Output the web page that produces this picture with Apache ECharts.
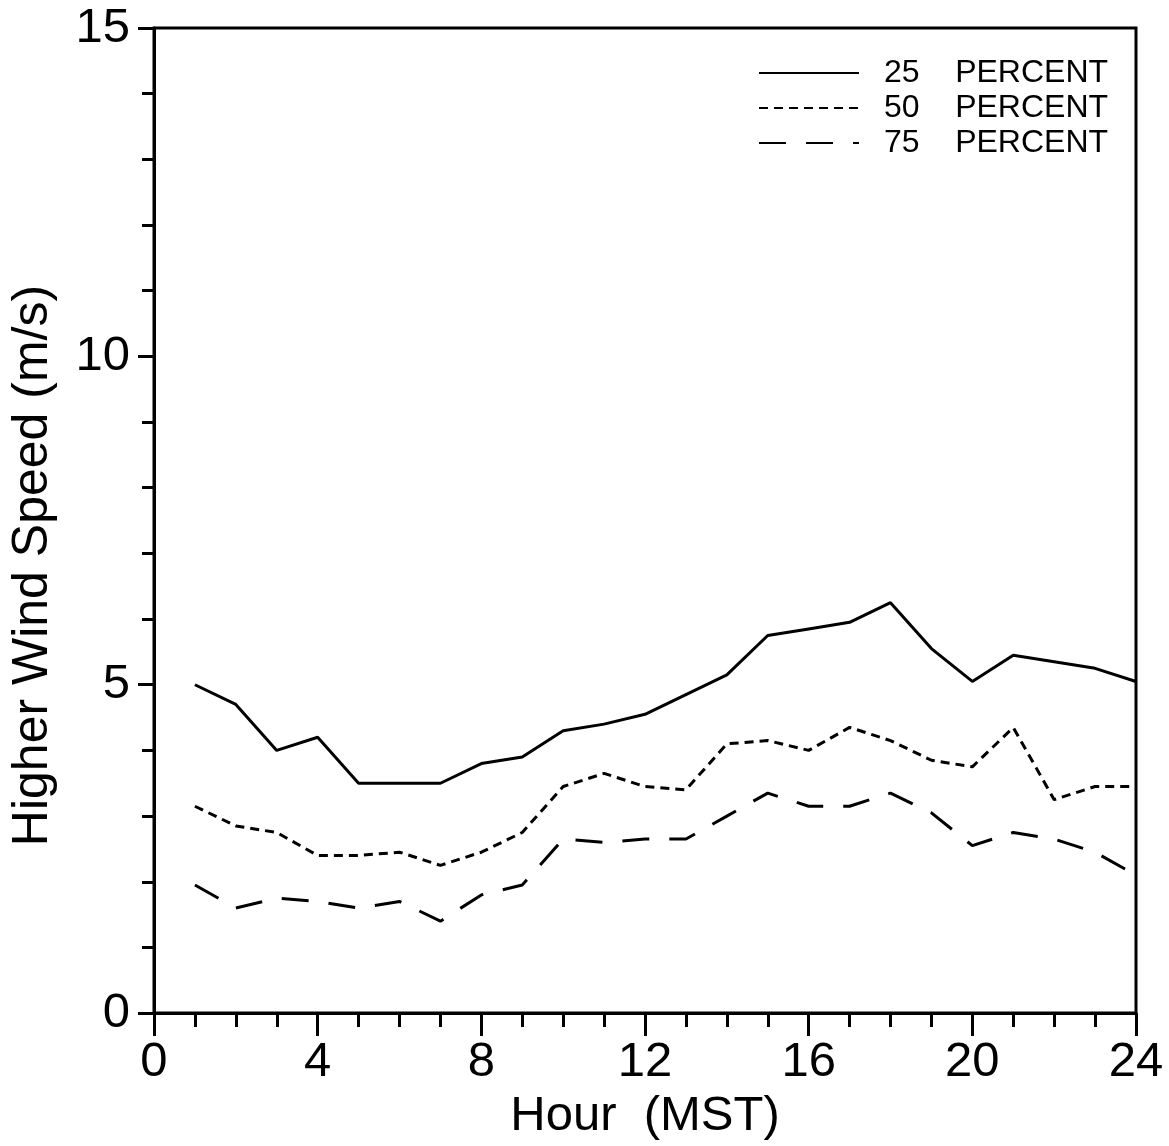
<!DOCTYPE html>
<html>
<head>
<meta charset="utf-8">
<script src="https://cdn.jsdelivr.net/npm/echarts@6/dist/echarts.min.js"></script>
<style>
html,body{margin:0;padding:0;background:#fff;}
#chart{width:1169px;height:1146px;}
</style>
</head>
<body>
<div id="chart"></div>
<script>
// Hours (MST)
var hours = [1,2,3,4,5,6,7,8,9,10,11,12,13,14,15,16,17,18,19,20,21,22,23,24];
// Higher wind speed (m/s) percentiles
var p25 = [5.0,4.7,4.0,4.2,3.5,3.5,3.5,3.8,3.9,4.3,4.4,4.55,4.85,5.15,5.75,5.85,5.95,6.25,5.55,5.05,5.45,5.35,5.25,5.05];
var p50 = [3.15,2.85,2.75,2.4,2.4,2.45,2.25,2.45,2.75,3.45,3.65,3.45,3.4,4.1,4.15,4.0,4.35,4.15,3.85,3.75,4.35,3.25,3.45,3.45];
var p75 = [1.95,1.6,1.75,1.7,1.6,1.7,1.4,1.8,1.95,2.65,2.6,2.65,2.65,3.0,3.35,3.15,3.15,3.35,3.05,2.55,2.75,2.65,2.45,2.1];
var seriesNames = ['25 PERCENT','50 PERCENT','75 PERCENT'];
var xTitle = 'Hour  (MST)';
var yTitle = 'Higher Wind Speed (m/s)';

var FONT = '"Liberation Sans", Arial, sans-serif';
function pairs(vals){ return hours.map(function(h,i){ return [h, vals[i]]; }); }

var chart = echarts.init(document.getElementById('chart'), null, {renderer:'canvas'});
var axisCommon = {
  axisLine:{show:true, onZero:false, lineStyle:{color:'#000', width:3}},
  splitLine:{show:false},
  minorSplitLine:{show:false}
};
chart.setOption({
  animation:false,
  backgroundColor:'#fff',
  grid:{left:152, right:33, top:28, bottom:123, show:true, borderColor:'#000', borderWidth:3, backgroundColor:'transparent'},
  legend:{
    orient:'vertical', left:753, top:52, itemWidth:100, itemHeight:14, itemGap:3, align:'left',
    itemStyle:{opacity:0},
    formatter:function(n){ return n.replace(' ', '    '); },
    textStyle:{fontSize:32, fontFamily:FONT, color:'#000', padding:[0,0,0,20]}
  },
  xAxis:Object.assign({}, axisCommon, {
    type:'value', min:0, max:24, interval:4,
    axisTick:{show:true, length:23, lineStyle:{color:'#000', width:3}},
    minorTick:{show:true, splitNumber:4, length:14, lineStyle:{color:'#000', width:3}},
    axisLabel:{fontSize:49, color:'#000', margin:25, fontFamily:FONT},
    name:xTitle, nameLocation:'middle', nameGap:64,
    nameTextStyle:{fontSize:49, color:'#000', fontFamily:FONT}
  }),
  yAxis:Object.assign({}, axisCommon, {
    type:'value', min:0, max:15, interval:5,
    axisTick:{show:true, length:16, lineStyle:{color:'#000', width:3}},
    minorTick:{show:true, splitNumber:5, length:12, lineStyle:{color:'#000', width:3}},
    axisLabel:{fontSize:49, color:'#000', margin:24, fontFamily:FONT},
    name:yTitle, nameLocation:'middle', nameGap:96,
    nameTextStyle:{fontSize:50, color:'#000', fontFamily:FONT, padding:[0,90,0,0]}
  }),
  series:[
    {name:seriesNames[0], type:'line', data:pairs(p25), symbol:'none', showSymbol:false,
     lineStyle:{color:'#000', width:3, type:'solid'}, itemStyle:{color:'#000'}},
    {name:seriesNames[1], type:'line', data:pairs(p50), symbol:'none', showSymbol:false,
     lineStyle:{color:'#000', width:3, type:[9,6]}, itemStyle:{color:'#000'}},
    {name:seriesNames[2], type:'line', data:pairs(p75), symbol:'none', showSymbol:false,
     lineStyle:{color:'#000', width:3, type:[27,20]}, itemStyle:{color:'#000'}}
  ]
});
</script>
</body>
</html>
